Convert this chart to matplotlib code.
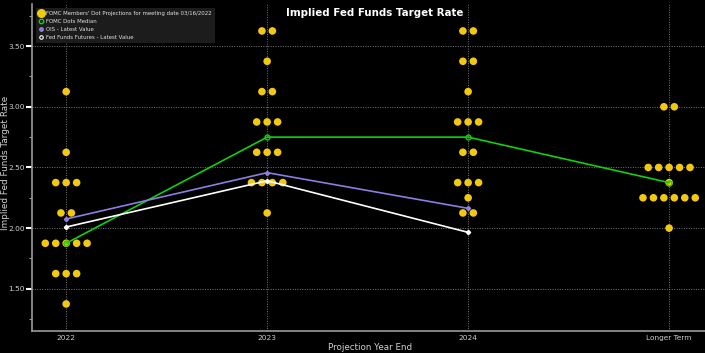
import matplotlib.pyplot as plt
import numpy as np
from matplotlib.lines import Line2D

plt.rcParams['font.family'] = ['Liberation Sans Narrow', 'DejaVu Sans']

# data
categories = ['2022', '2023', '2024', 'Longer Term']
dot_rates = {
    '2022': [3.125, 2.625, 2.375, 2.125, 1.875, 1.625, 1.375],
    '2023': [3.625, 3.375, 3.125, 2.875, 2.625, 2.375, 2.125],
    '2024': [3.625, 3.375, 3.125, 2.875, 2.625, 2.375, 2.25, 2.125],
    'Longer Term': [3.0, 2.5, 2.375, 2.25, 2.0],
}
dot_counts = {
    '2022': [1, 1, 3, 2, 5, 3, 1],
    '2023': [2, 1, 2, 3, 3, 4, 1],
    '2024': [2, 2, 1, 3, 2, 3, 1, 2],
    'Longer Term': [2, 5, 1, 6, 1],
}
median = [1.875, 2.75, 2.75, 2.375]
ois = [2.075, 2.457, 2.163]
ff_futures = [2.009, 2.39, 1.965]

yellow = '#F2C811'
green = '#10D010'
purple = '#8C7EE0'
grey = '#9a9a9a'

fig = plt.figure(figsize=(7.05, 3.53), dpi=100, facecolor='black')
ax = fig.add_axes([0.0454, 0.0623, 0.955, 0.926])
ax.set_facecolor('black')

dx = 0.052
for i, cat in enumerate(categories):
    for rate, n in zip(dot_rates[cat], dot_counts[cat]):
        xs = i + (np.arange(n) - (n - 1) / 2) * dx
        ax.scatter(xs, [rate] * n, s=30, color=yellow, edgecolors='none', zorder=2)

ax.plot(range(4), median, color=green, lw=1.2, marker='o', ms=3.5,
        mfc='none', mec=green, mew=1, zorder=4)
ax.plot(range(3), ois, color=purple, lw=1.2, marker='D', ms=2.2, zorder=4)
ax.plot(range(3), ff_futures, color='white', lw=1.2, marker='D', ms=2.2, zorder=4)

ax.set_xlim(-0.17, 3.18)
ax.set_ylim(1.152, 3.846)
ax.set_xticks(range(4))
ax.set_xticklabels(categories)
ax.set_yticks([1.5, 2.0, 2.5, 3.0, 3.5])
ax.set_yticklabels(['1.50', '2.00', '2.50', '3.00', '3.50'])
ax.set_yticks(np.arange(1.25, 3.8, 0.25), minor=True)
ax.grid(True, which='major', color='#777777', linestyle=(0, (1, 1.5)), lw=0.7)

for s in ['top', 'right']:
    ax.spines[s].set_visible(False)
for s in ['left', 'bottom']:
    ax.spines[s].set_color(grey)
    ax.spines[s].set_linewidth(1.2)
ax.tick_params(axis='y', which='major', colors='white', length=4, width=1.5,
               labelsize=5.3, labelcolor='#cfcfcf', pad=1)
ax.tick_params(axis='y', which='minor', colors=grey, length=2, width=0.8)
ax.tick_params(axis='x', length=0, labelsize=5.3, labelcolor='#cfcfcf', pad=3)

fig.text(0.008, 0.538, 'Implied Fed Funds Target Rate', color='#d0d0d0', fontsize=6.4,
         rotation=90, ha='center', va='center')
fig.text(0.525, 0.002, 'Projection Year End', color='#d0d0d0', fontsize=6.3,
         ha='center', va='bottom')
fig.text(0.532, 0.963, 'Implied Fed Funds Target Rate', color='white', fontsize=7.4,
         fontweight='bold', family=['DejaVu Sans'], ha='center', va='center')

handles = [
    Line2D([], [], ls='none', marker='o', ms=5.5, color=yellow),
    Line2D([], [], ls='none', marker='o', ms=3.2, mfc='none', mec=green, mew=1),
    Line2D([], [], ls='none', marker='o', ms=2.5, color=purple),
    Line2D([], [], ls='none', marker='o', ms=2.5, mfc='none', mec='white', mew=0.8),
]
labels = ["FOMC Members' Dot Projections for meeting date 03/16/2022",
          'FOMC Dots Median', 'OIS - Latest Value', 'Fed Funds Futures - Latest Value']
leg = ax.legend(handles, labels, loc='upper left', bbox_to_anchor=(0.006, 0.987),
                fontsize=3.9, frameon=True, facecolor='#1c1c1c', edgecolor='none',
                framealpha=1, handlelength=0.9, handletextpad=0.4, labelspacing=0.55,
                borderpad=0.55, borderaxespad=0, fancybox=False)
for t in leg.get_texts():
    t.set_color('#e0e0e0')

fig.savefig('out.png', dpi=100, facecolor='black')
